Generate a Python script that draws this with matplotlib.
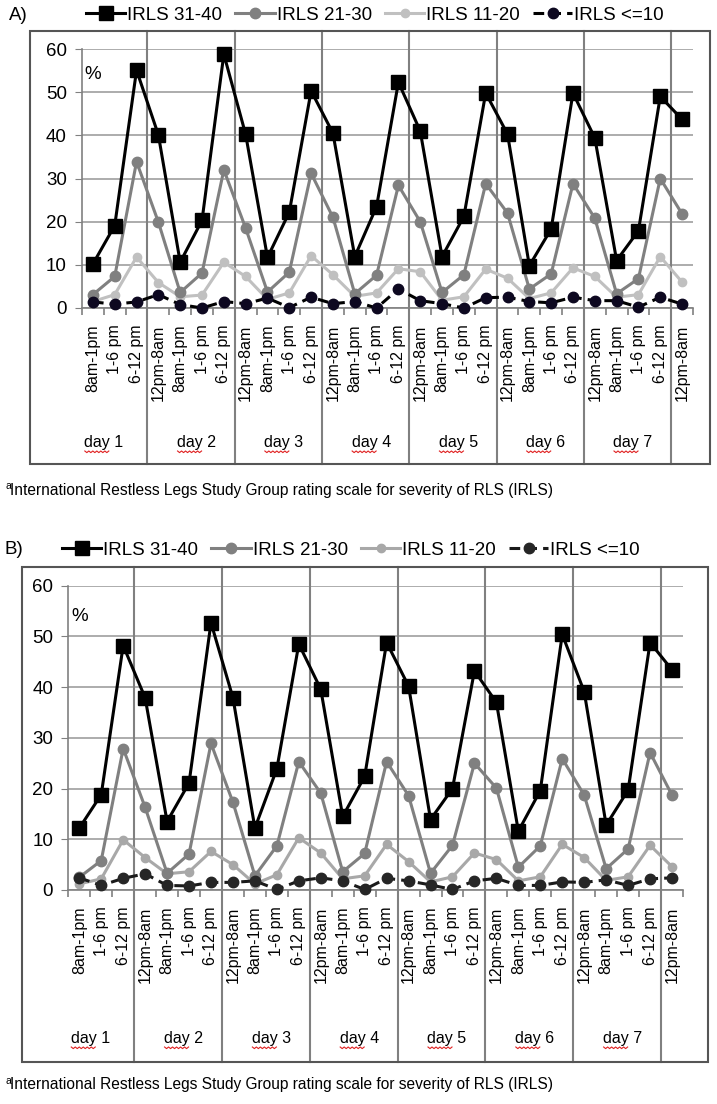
import numpy as np
import matplotlib
matplotlib.use("Agg")
import matplotlib.pyplot as plt
from matplotlib import font_manager
from matplotlib.patches import Rectangle

# ── Data ───────────────────────────────────────────────────────────────────────
SLOTS = ["8am-1pm", "1-6 pm", "6-12 pm"] + ["12pm-8am", "8am-1pm", "1-6 pm", "6-12 pm"] * 6 + ["12pm-8am"]
DAYS = ["day 1", "day 2", "day 3", "day 4", "day 5", "day 6", "day 7"]
SERIES = ["IRLS 31-40", "IRLS 21-30", "IRLS 11-20", "IRLS <=10"]

A_31_40 = [10.2, 19.1, 55.1, 40.1, 10.6, 20.3, 58.8, 40.2, 11.7, 22.2, 50.3, 40.5, 11.9, 23.5,
           52.3, 41.0, 11.9, 21.2, 49.8, 40.3, 9.8, 18.3, 49.8, 39.4, 11.0, 17.9, 49.0, 43.7]
A_21_30 = [3.1, 7.3, 33.9, 19.9, 3.6, 8.1, 32.0, 18.5, 3.7, 8.3, 31.2, 21.0, 3.3, 7.6,
           28.4, 20.0, 3.6, 7.7, 28.8, 22.0, 4.4, 7.9, 28.8, 20.8, 3.3, 6.8, 30.0, 21.8]
A_11_20 = [1.5, 3.1, 11.8, 5.9, 2.6, 3.0, 10.6, 7.3, 2.0, 3.5, 12.1, 7.7, 2.7, 3.5,
           9.1, 8.4, 1.8, 2.6, 9.0, 6.9, 2.2, 3.5, 9.3, 7.3, 2.5, 3.1, 11.9, 6.0]
A_LE10 = [1.4, 0.9, 1.4, 3.1, 0.8, 0.0, 1.5, 1.0, 2.3, 0.1, 2.5, 1.0, 1.5, 0.0,
          4.4, 1.7, 1.0, 0.0, 2.4, 2.5, 1.5, 1.2, 2.5, 1.7, 1.7, 0.2, 2.5, 0.9]

B_31_40 = [12.2, 18.8, 48.2, 37.9, 13.5, 21.1, 52.7, 37.9, 12.2, 23.9, 48.5, 39.6, 14.5, 22.4,
           48.8, 40.2, 13.9, 20.0, 43.2, 37.0, 11.6, 19.6, 50.4, 39.1, 12.8, 19.7, 48.8, 43.4]
B_21_30 = [2.5, 5.8, 27.9, 16.3, 3.3, 7.1, 28.9, 17.3, 2.8, 8.7, 25.3, 19.1, 3.6, 7.2,
           25.3, 18.6, 3.3, 8.8, 25.0, 20.1, 4.5, 8.7, 25.9, 18.7, 4.2, 8.1, 27.1, 18.7]
B_11_20 = [1.2, 2.2, 9.9, 6.4, 3.2, 3.6, 7.6, 5.0, 1.2, 3.0, 10.3, 7.3, 2.2, 2.8,
           9.0, 5.6, 1.6, 2.6, 7.3, 6.0, 1.8, 2.6, 9.0, 6.4, 1.9, 2.6, 8.8, 4.6]
B_LE10 = [2.4, 0.9, 2.3, 3.2, 0.9, 0.8, 1.5, 1.5, 1.8, 0.1, 1.8, 2.4, 1.8, 0.1,
          2.3, 1.8, 1.0, 0.1, 1.8, 2.3, 0.9, 0.9, 1.6, 1.5, 2.0, 0.9, 2.2, 2.4]

FOOTNOTE = "International Restless Legs Study Group rating scale for severity of RLS (IRLS)"

# ── Style ──────────────────────────────────────────────────────────────────────
W, H = 717, 1104
GRID = "#a6a6a6"
SEP = "#808080"
FRAME = "#555555"

plt.rcParams.update({
    "font.family": ["Liberation Sans", "DejaVu Sans"],
    "font.size": 13.5,
})

installed = {f.name for f in font_manager.fontManager.ttflist}
NARROW = "Liberation Sans Narrow" if "Liberation Sans Narrow" in installed else "Liberation Sans"
NOTE_SIZE = 12.5 if NARROW == "Liberation Sans Narrow" else 11.2


def fx(px):
    return px / W


def fy(py):
    return 1 - py / H


def draw_panel(fig, tag, data, colors, geo):
    left, right, top, bottom = geo["axes"]
    ax = fig.add_axes([fx(left), fy(bottom), fx(right - left), (bottom - top) / H])
    x = np.arange(len(SLOTS))
    n = len(SLOTS)

    # series (drawn so the <=10 dashes sit on top)
    styles = [
        dict(color=colors[0], marker="s", ms=9.5, lw=2.2, zorder=4),
        dict(color=colors[1], marker="o", ms=7.5, lw=2.2, zorder=3),
        dict(color=colors[2], marker="o", ms=6.0, lw=2.2, zorder=2),
        dict(color=colors[3], marker="o", ms=7.5, lw=2.2, ls=(0, (3.5, 2)), zorder=5,
             mfc=colors[4], mec=colors[4]),
    ]
    handles = []
    for vals, st, name in zip(data, styles, SERIES):
        h, = ax.plot(x, vals, label=name, clip_on=False, **st)
        handles.append(h)

    ax.set_xlim(-0.5, n - 0.5)
    ax.set_ylim(0, 60)
    ax.set_yticks(range(0, 61, 10))
    ax.yaxis.grid(True, color=GRID, lw=1.3)
    ax.set_axisbelow(True)
    for s in ["top", "right"]:
        ax.spines[s].set_visible(False)
    for s in ["left", "bottom"]:
        ax.spines[s].set_color(SEP)
        ax.spines[s].set_linewidth(1.2)
    ax.tick_params(axis="y", length=5, color=SEP, pad=6, labelsize=13.5)

    ax.set_xticks(x)
    ax.set_xticklabels(SLOTS, rotation=90, fontsize=11.5, va="top", ha="center")
    ax.tick_params(axis="x", which="major", length=0, pad=12)
    ax.set_xticks(np.arange(-0.5, n, 1.0), minor=True)
    ax.tick_params(axis="x", which="minor", length=5, color=SEP, width=1.2)

    ax.text(0, 54, "%", ha="center", va="center", fontsize=13.5)

    # frame + day separators
    fl, fr, ft, fb = geo["frame"]
    fig.patches.append(Rectangle((fx(fl), fy(fb)), fx(fr - fl), (fb - ft) / H,
                                 transform=fig.transFigure, fill=False,
                                 ec=FRAME, lw=1.5))
    y_top = (bottom - ft) / (bottom - top)
    y_bot = -(fb - bottom) / (bottom - top)
    xform = ax.get_xaxis_transform()
    for b in [2.5, 6.5, 10.5, 14.5, 18.5, 22.5, 26.5]:
        ax.plot([b, b], [y_bot, y_top], color=SEP, lw=1.5, transform=xform,
                clip_on=False, zorder=1)

    # day labels with the spell-check squiggle
    cat_px = (right - left) / n
    y_day = -(geo["day_y"] - bottom) / (bottom - top)
    centers = [0.5] + [4.75 + 4 * i for i in range(6)]
    for c, d in zip(centers, DAYS):
        ax.text(c, y_day, d, transform=xform, ha="center", va="center", fontsize=11.5)
        zx = c + (np.arange(0, 25, 2.0) - 19) / cat_px
        zy = -(geo["day_y"] + 9 + np.tile([0, 1.6], 7)[:len(zx)] - bottom) / (bottom - top)
        ax.plot(zx, zy, color="#e02020", lw=0.8, transform=xform, clip_on=False)

    # legend and panel tag
    fig.text(fx(geo["tag_x"]), fy(geo["leg_y"]), tag, ha="left", va="center", fontsize=13.5)
    fig.legend(handles=handles, loc="center left", ncol=4, frameon=False,
               bbox_to_anchor=(fx(geo["leg_x"]), fy(geo["leg_y"])),
               handlelength=2.1, handletextpad=0.1, columnspacing=0.7,
               fontsize=13.5, borderaxespad=0, borderpad=0)

    # footnote
    fig.text(fx(geo["note_x"]), fy(geo["note_y"] - 4), "a", fontsize=7.5,
             ha="left", va="center", family=NARROW)
    fig.text(fx(geo["note_x"] + 5), fy(geo["note_y"]), FOOTNOTE, fontsize=NOTE_SIZE,
             ha="left", va="center", family=NARROW)
    return ax


fig = plt.figure(figsize=(W / 100, H / 100), dpi=100)

geo_a = dict(axes=(82, 693, 49, 308), frame=(30, 710, 31, 464), day_y=442,
             tag_x=9, leg_x=86, leg_y=15, note_x=5, note_y=490)
geo_b = dict(axes=(68.3, 683, 585.7, 890), frame=(22, 708, 567, 1062), day_y=1038,
             tag_x=5, leg_x=62, leg_y=550, note_x=5, note_y=1085)

draw_panel(fig, "A)", [A_31_40, A_21_30, A_11_20, A_LE10],
           ["#000000", "#808080", "#c0c0c0", "#000000", "#0d0820"], geo_a)
draw_panel(fig, "B)", [B_31_40, B_21_30, B_11_20, B_LE10],
           ["#000000", "#808080", "#a8a8a8", "#1a1a1a", "#262626"], geo_b)

fig.savefig("out.png", dpi=100)
